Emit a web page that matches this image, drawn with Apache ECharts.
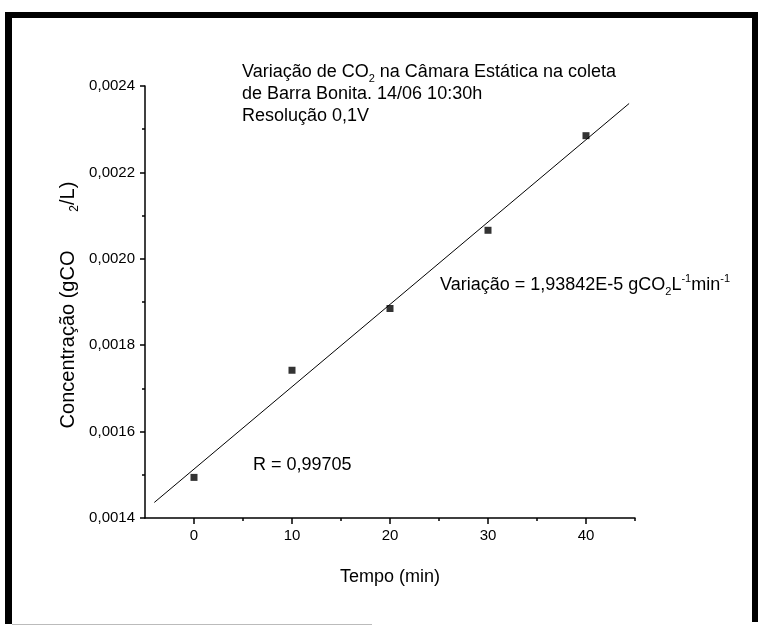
<!DOCTYPE html>
<html><head><meta charset="utf-8">
<script src="https://cdn.jsdelivr.net/npm/echarts@6/dist/echarts.min.js"></script>
<style>html,body{margin:0;padding:0;background:#fff}#c{width:758px;height:631px}</style>
</head><body><div id="c"></div>
<script>
// Data
const tempo = [0, 10, 20, 30, 40];
const concentracao = [0.001494, 0.001742, 0.001885, 0.002066, 0.002285];
const xMajorTicks = [0, 10, 20, 30, 40];
const xMinorTicks = [5, 15, 25, 35, 45];
const fitRange = [-4.05, 44.4];
const titleLines = ['Variação de CO', 'de Barra Bonita. 14/06 10:30h', 'Resolução 0,1V'];
const slopeText = 'Variação = 1,93842E-5 gCO';
const rText = 'R = 0,99705';

// least-squares fit from the data
const n = tempo.length;
const mx = tempo.reduce((a, b) => a + b, 0) / n;
const my = concentracao.reduce((a, b) => a + b, 0) / n;
let sxy = 0, sxx = 0;
for (let i = 0; i < n; i++) { sxy += (tempo[i] - mx) * (concentracao[i] - my); sxx += (tempo[i] - mx) ** 2; }
const b = sxy / sxx, a = my - b * mx;
const fitData = fitRange.map(x => [x, a + b * x]);

const FONT = 'Liberation Sans, Arial, sans-serif';
const chart = echarts.init(document.getElementById('c'), null, {renderer: 'canvas'});
const txt = {fontFamily: FONT, fontSize: 18, fill: '#000'};
const rich = {
  sub: {fontFamily: FONT, fontSize: 11, verticalAlign: 'bottom', lineHeight: 24},
  sup: {fontFamily: FONT, fontSize: 11, verticalAlign: 'top', lineHeight: 24},
  n: {fontFamily: FONT, fontSize: 18, lineHeight: 20}
};
const richY = {
  sub: {fontFamily: FONT, fontSize: 12, verticalAlign: 'bottom', lineHeight: 26},
  n: {fontFamily: FONT, fontSize: 20, lineHeight: 22}
};
chart.setOption({
  animation: false,
  backgroundColor: '#fff',
  grid: {left: 145, right: 123, top: 86, bottom: 113, containLabel: false},
  xAxis: [{
    type: 'value', min: -5, max: 45, position: 'bottom',
    axisLine: {show: true, onZero: false, lineStyle: {color: '#000', width: 1.5}},
    axisTick: {show: true, customValues: xMajorTicks, length: 6, lineStyle: {color: '#000', width: 1.5}},
    axisLabel: {customValues: xMajorTicks, color: '#000', fontFamily: FONT, fontSize: 15, margin: 10},
    splitLine: {show: false},
    name: 'Tempo (min)', nameLocation: 'middle', nameGap: 50,
    nameTextStyle: {color: '#000', fontFamily: FONT, fontSize: 18}
  }, {
    type: 'value', min: -5, max: 45, position: 'bottom', gridIndex: 0,
    axisLine: {show: false, onZero: false},
    axisTick: {show: true, customValues: xMinorTicks, length: 3, lineStyle: {color: '#000', width: 1.5}},
    axisLabel: {show: false},
    splitLine: {show: false}
  }],
  yAxis: {
    type: 'value', min: 0.0014, max: 0.0024, interval: 0.0002,
    axisLine: {show: true, onZero: false, lineStyle: {color: '#000', width: 1.5}},
    axisTick: {show: true, length: 5, lineStyle: {color: '#000', width: 1.5}},
    minorTick: {show: true, splitNumber: 2, length: 3, lineStyle: {color: '#000', width: 1.5}},
    axisLabel: {color: '#000', fontFamily: FONT, fontSize: 15, margin: 10,
      formatter: v => v.toFixed(4).replace('.', ',')},
    splitLine: {show: false}
  },
  series: [{
    type: 'line', data: fitData, symbol: 'none', silent: true,
    lineStyle: {color: '#000', width: 1}
  }, {
    type: 'scatter', data: tempo.map((t, i) => [t, concentracao[i]]),
    symbol: 'rect', symbolSize: 7, itemStyle: {color: '#000'}
  }],
  graphic: [
    {type: 'rect', shape: {x: 5, y: 12, width: 753, height: 6}, style: {fill: '#000'}},
    {type: 'rect', shape: {x: 5, y: 12, width: 7, height: 612}, style: {fill: '#000'}},
    {type: 'rect', shape: {x: 752, y: 12, width: 6, height: 610}, style: {fill: '#000'}},
    {type: 'rect', shape: {x: 12, y: 624, width: 360, height: 1}, style: {fill: '#bbb'}},
    {type: 'text', x: 242, y: 72, style: {text: '{n|' + titleLines[0] + '}{sub|2}{n| na Câmara Estática na coleta}', rich: rich, ...txt, verticalAlign: 'middle'}},
    {type: 'text', x: 242, y: 94, style: {text: titleLines[1], ...txt, verticalAlign: 'middle'}},
    {type: 'text', x: 242, y: 116, style: {text: titleLines[2], ...txt, verticalAlign: 'middle'}},
    {type: 'text', x: 440, y: 285, style: {text: '{n|' + slopeText + '}{sub|2}{n|L}{sup|-1}{n|min}{sup|-1}', rich: rich, ...txt, verticalAlign: 'middle'}},
    {type: 'text', x: 253, y: 465, style: {text: rText, ...txt, verticalAlign: 'middle'}},
    {type: 'text', x: 68, y: 305, rotation: Math.PI / 2,
      style: {text: '{n|Concentração (gCO       }{sub|2}{n|/L)}', rich: richY, ...txt, fontSize: 20, align: 'center', verticalAlign: 'middle'}}
  ]
});
</script>
</body></html>
